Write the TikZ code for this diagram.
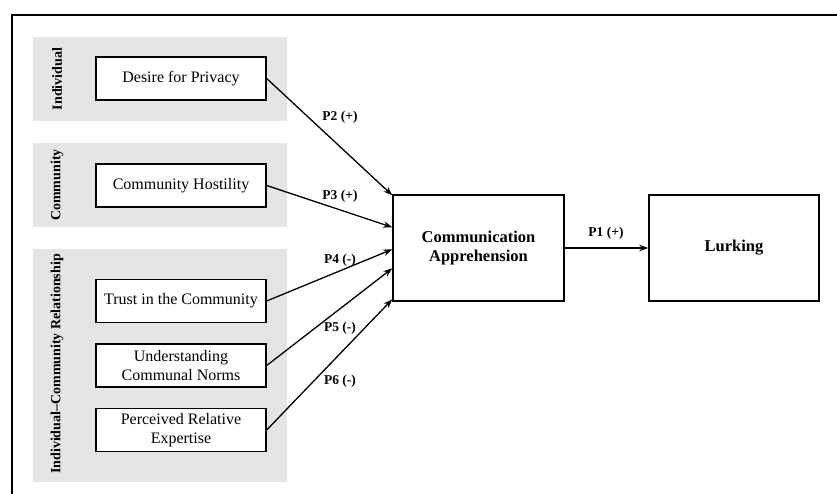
\documentclass[tikz,border=0pt]{standalone}
\usepackage{fontspec}
\setmainfont{Liberation Serif}
\usetikzlibrary{arrows.meta}
\definecolor{bandgray}{RGB}{229,229,229}
\begin{document}
\begin{tikzpicture}[x=1pt,y=-1pt,
  band/.style={fill=bandgray,draw=none},
  bandlabel/.style={rotate=90,font=\fontsize{14}{15}\selectfont\bfseries,inner sep=0pt},
  factor/.style={draw,line width=1.4pt,fill=white,minimum width=170pt,minimum height=43pt,
    inner sep=1pt,align=center,font=\fontsize{16}{19.5}\selectfont},
  mainbox/.style={draw,line width=1.4pt,fill=white,minimum width=171pt,minimum height=106pt,
    align=center,font=\fontsize{16.5}{19.5}\selectfont\bfseries},
  link/.style={line width=1.3pt,-{Stealth[length=9pt,width=6.5pt]}},
  plabel/.style={font=\fontsize{13.5}{15}\selectfont\bfseries,inner sep=0pt}]
\useasboundingbox (0,0) rectangle (837,494);
% outer frame: only top and left edges lie inside the page
\draw[line width=2pt] (837,15) -- (12,15) -- (12,494);
% grey level bands
\fill[band] (33,37) rectangle (287,121);
\fill[band] (33,143) rectangle (287,227);
\fill[band] (33,249) rectangle (287,482);
\node[bandlabel] (lind) at (57,79) {Individual};
\node[bandlabel] (lcom) at (57,185) {Community};
\node[bandlabel] (lrel) at (57,364) {Individual–Community Relationship};
% antecedents
\node[factor] (priv) at (181,78.5) {Desire for Privacy};
\node[factor] (host) at (181,185.5) {Community Hostility};
\node[factor] (trust) at (181,301) {Trust in the Community};
\node[factor] (norms) at (181,365.5) {Understanding\\Communal Norms};
\node[factor] (exp) at (181,430) {Perceived Relative\\Expertise};
% mediator and outcome
\node[mainbox] (ca) at (478.5,248) {Communication\\Apprehension};
\node[mainbox,minimum width=170pt] (lurk) at (734,248) {Lurking};
% propositions
\draw[link] (priv.east) -- ([yshift=-1pt]ca.north west);
\draw[link] (host.east) -- ([yshift=-33pt]ca.north west);
\draw[link] (trust.east) -- ([yshift=-55pt]ca.north west);
\draw[link] (norms.east) -- ([yshift=-74pt]ca.north west);
\draw[link] (exp.east) -- ([yshift=-105pt]ca.north west);
\draw[link] (ca.east) -- (lurk.west);
\node[plabel] (p2) at (340,117) {P2 (+)};
\node[plabel] (p3) at (340,196) {P3 (+)};
\node[plabel] (p4) at (340,260) {P4 (-)};
\node[plabel] (p5) at (340,328) {P5 (-)};
\node[plabel] (p6) at (340,381) {P6 (-)};
\node[plabel] (p1) at (606,233) {P1 (+)};
\end{tikzpicture}
\end{document}
